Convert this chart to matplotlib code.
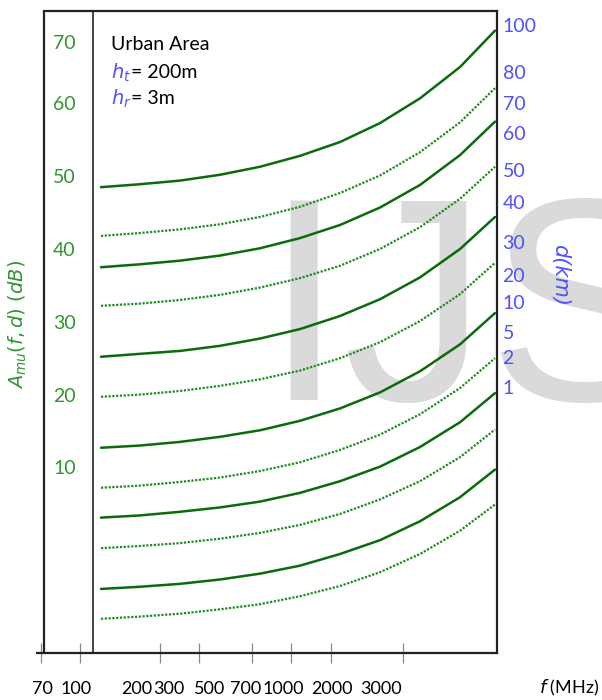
import matplotlib
matplotlib.use('Agg')
import matplotlib.pyplot as plt
import matplotlib.transforms as mtransforms


# horizontal position along the f axis (schematic drawing, not to scale)
pos = [64, 103, 143, 183, 223, 263, 303, 343, 383, 423, 458]

# median attenuation curves, dB (solid / dotted alternate)
solid_1 = [48.7, 49.1, 49.6, 50.4, 51.5, 53.0, 54.9, 57.5, 60.9, 65.2, 70.2]
dotted_1 = [42.0, 42.4, 42.9, 43.6, 44.6, 46.0, 47.9, 50.3, 53.5, 57.6, 62.3]
solid_2 = [37.7, 38.1, 38.6, 39.3, 40.3, 41.7, 43.5, 45.9, 49.0, 53.1, 57.7]
dotted_2 = [32.4, 32.7, 33.2, 33.9, 34.9, 36.2, 37.9, 40.2, 43.2, 47.1, 51.5]
solid_3 = [25.4, 25.8, 26.2, 26.9, 27.9, 29.2, 31.0, 33.3, 36.3, 40.2, 44.6]
dotted_3 = [19.9, 20.2, 20.7, 21.4, 22.3, 23.5, 25.2, 27.4, 30.3, 34.0, 38.3]
solid_4 = [12.9, 13.2, 13.7, 14.4, 15.3, 16.6, 18.3, 20.5, 23.4, 27.1, 31.4]
dotted_4 = [7.4, 7.7, 8.2, 8.8, 9.7, 10.9, 12.6, 14.7, 17.5, 21.1, 25.2]
solid_5 = [3.3, 3.6, 4.1, 4.7, 5.5, 6.7, 8.3, 10.3, 13.0, 16.4, 20.4]
dotted_5 = [-0.9, -0.6, -0.2, 0.4, 1.2, 2.3, 3.8, 5.8, 8.3, 11.6, 15.4]
solid_6 = [-6.5, -6.2, -5.8, -5.2, -4.4, -3.3, -1.7, 0.2, 2.8, 6.1, 9.9]
dotted_6 = [-10.6, -10.3, -9.9, -9.3, -8.6, -7.5, -6.1, -4.2, -1.7, 1.5, 5.1]

solid_curves = [solid_1, solid_2, solid_3, solid_4, solid_5, solid_6]
dotted_curves = [dotted_1, dotted_2, dotted_3, dotted_4, dotted_5, dotted_6]

# axis labels
db_labels = ['10', '20', '30', '40', '50', '60', '70']
db_label_pos = [10, 20, 30, 40, 50, 60, 68.5]
d_labels = ['100', '80', '70', '60', '50', '40', '30', '20', '10', '5', '2', '1']
d_label_pos = [71.0, 64.5, 60.3, 56.1, 51.1, 46.7, 41.2, 36.6, 32.9, 28.8, 25.3, 21.3]
f_labels = ['70', '100', '200', '300', '500', '700', '1000', '2000', '3000']
f_label_pos = [5, 39, 100, 132, 173, 209, 246, 295, 344]
f_tick_pos = [4, 43, 123, 162, 215, 254, 294, 366]

W, H = 602, 700
GREEN_TXT = '#2f962f'
BLUE_TXT = '#5050ff'

plt.rcParams['font.family'] = ['Lato', 'DejaVu Sans']
plt.rcParams['mathtext.fontset'] = 'dejavusans'

fig = plt.figure(figsize=(W / 100, H / 100), dpi=100)
ax = fig.add_axes([37 / W, 1 - 653 / H, 460 / W, 642 / H])
ax.patch.set_alpha(0)
ax.set_xlim(0, 460)
ax.set_ylim(-15.3, 72.9)

# watermark behind everything
fig.text(263 / W, 1 - 400 / H, 'IJS', fontsize=208, family='Liberation Sans',
         color='#dadada', ha='left', va='baseline', zorder=-5)

for c in solid_curves:
    ax.plot(pos, c, color='#0b6b0b', lw=1.8, solid_capstyle='round',
            solid_joinstyle='round')
for c in dotted_curves:
    ax.plot(pos, c, color='#1f8a1f', lw=1.6, linestyle=(0, (1, 0.7)))

# frame
for s in ['top', 'right', 'bottom']:
    ax.spines[s].set_linewidth(1.6)
    ax.spines[s].set_color('#222222')
ax.spines['left'].set_visible(False)
ax.spines['top'].set_bounds(7, 460)
ax.axvline(7, color='#222222', lw=1.6)
ax.axvline(56, color='#444444', lw=1.4)

# x axis: tick marks as minor ticks, labels as major ticks
ax.set_xticks(f_label_pos, f_labels)
ax.set_xticks(f_tick_pos, minor=True)
ax.tick_params(axis='x', which='major', length=0, pad=20, labelsize=13)
ax.tick_params(axis='x', which='minor', direction='inout', length=14,
               width=0.9, color='#888888')
fig.text(539 / W, 1 - 688 / H, r'$f$ (MHz)', fontsize=13, ha='left', va='center')

# right side: distance labels
ax.yaxis.set_ticks_position('right')
ax.set_yticks(d_label_pos, d_labels)
ax.tick_params(axis='y', length=0, pad=4, labelsize=14, labelcolor=BLUE_TXT)
fig.text(560 / W, 1 - 275 / H, 'd(km)', fontsize=15, family='DejaVu Sans',
         style='italic', color=BLUE_TXT, rotation=270, ha='center', va='center')

# left side: attenuation labels between the two vertical lines
trans = mtransforms.blended_transform_factory(ax.transData, ax.transData)
for lab, y in zip(db_labels, db_label_pos):
    ax.text(16, y, lab, fontsize=14, color=GREEN_TXT, ha='left', va='center',
            transform=trans)
fig.text(18 / W, 1 - 325 / H, r'$A_{mu}(f,d)\ (dB)$', fontsize=14,
         color=GREEN_TXT, rotation=90, ha='center', va='center')

# annotation
fig.text(111 / W, 1 - 45 / H, 'Urban Area', fontsize=14, ha='left', va='center')
fig.text(111 / W, 1 - 73 / H, r'$h_t$', fontsize=14, color=BLUE_TXT, ha='left', va='center')
fig.text(131 / W, 1 - 73 / H, '= 200m', fontsize=14, ha='left', va='center')
fig.text(111 / W, 1 - 99 / H, r'$h_r$', fontsize=14, color=BLUE_TXT, ha='left', va='center')
fig.text(131 / W, 1 - 99 / H, '= 3m', fontsize=14, ha='left', va='center')

fig.savefig('out.png', dpi=100)
